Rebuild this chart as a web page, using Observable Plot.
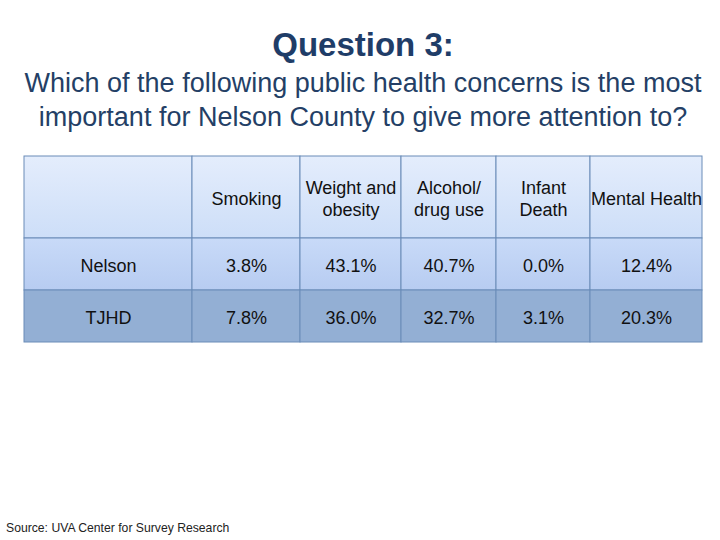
<!DOCTYPE html>
<html>
<head>
<meta charset="utf-8">
<script src="https://cdn.jsdelivr.net/npm/d3@7"></script>
<script src="https://cdn.jsdelivr.net/npm/@observablehq/plot@0.6"></script>
<style>
  html, body { margin: 0; padding: 0; background: #fff; }
  #page { position: relative; width: 720px; height: 540px; overflow: hidden; font-family: "Liberation Sans", Arial, sans-serif; }
  .t { position: absolute; left: 0; width: 726px; text-align: center; color: #1f3d68; white-space: nowrap; }
  #title { top: 25px; font-size: 33px; font-weight: bold; line-height: 40px; }
  #subtitle { top: 66px; font-size: 27px; line-height: 34px; color: #243f66; }
  #caption { position: absolute; left: 6px; top: 521px; font-size: 12.2px; color: #222; white-space: nowrap; }
  #chart { position: absolute; left: 0; top: 0; }
</style>
</head>
<body>
<div id="page">
  <div id="chart"></div>
  <div id="title" class="t">Question 3:</div>
  <div id="subtitle" class="t">Which of the following public health concerns is the most<br>important for Nelson County to give more attention to?</div>
  <div id="caption">Source: UVA Center for Survey Research</div>
</div>
<script>
// ---- data ----
const categories = ["Smoking", "Weight and\nobesity", "Alcohol/\ndrug use", "Infant\nDeath", "Mental Health"];
const regions = ["Nelson", "TJHD"];
const nelsonValues = [3.8, 43.1, 40.7, 0.0, 12.4];
const tjhdValues = [7.8, 36.0, 32.7, 3.1, 20.3];

// ---- layout (relative column / row sizes) ----
const colWeights = [168, 108, 101, 95, 94, 112];
const rowWeights = [82, 52, 52];

const colEdges = [0]; colWeights.forEach(w => colEdges.push(colEdges[colEdges.length - 1] + w));
const rowEdges = [0]; rowWeights.forEach(h => rowEdges.push(rowEdges[rowEdges.length - 1] + h));

const seriesValues = [nelsonValues, tjhdValues];
const cells = [];
// header row
cells.push({row: 0, col: 0, label: ""});
categories.forEach((c, i) => cells.push({row: 0, col: i + 1, label: c}));
// body rows
regions.forEach((r, ri) => {
  cells.push({row: ri + 1, col: 0, label: r});
  seriesValues[ri].forEach((v, i) => cells.push({row: ri + 1, col: i + 1, label: v.toFixed(1) + "%"}));
});
cells.forEach(d => {
  d.x1 = colEdges[d.col]; d.x2 = colEdges[d.col + 1];
  d.y1 = rowEdges[d.row]; d.y2 = rowEdges[d.row + 1];
  d.xc = (d.x1 + d.x2) / 2; d.yc = (d.y1 + d.y2) / 2;
});

const rowFill = ["url(#gHead)", "url(#gNelson)", "#93afd4"];

function defsMark() {
  const ns = "http://www.w3.org/2000/svg";
  const defs = document.createElementNS(ns, "defs");
  const grads = [["gHead", "#e4edfc", "#cddef8"], ["gNelson", "#c8daf8", "#b7ccf1"]];
  for (const [id, a, b] of grads) {
    const g = document.createElementNS(ns, "linearGradient");
    g.setAttribute("id", id);
    g.setAttribute("x1", "0"); g.setAttribute("y1", "0");
    g.setAttribute("x2", "0"); g.setAttribute("y2", "1");
    const s1 = document.createElementNS(ns, "stop"); s1.setAttribute("offset", "0"); s1.setAttribute("stop-color", a);
    const s2 = document.createElementNS(ns, "stop"); s2.setAttribute("offset", "1"); s2.setAttribute("stop-color", b);
    g.appendChild(s1); g.appendChild(s2); defs.appendChild(g);
  }
  return defs;
}

const totalW = colEdges[colEdges.length - 1];
const totalH = rowEdges[rowEdges.length - 1];

const chart = Plot.plot({
  width: 720,
  height: 540,
  marginLeft: 24,
  marginRight: 18,
  marginTop: 156,
  marginBottom: 198,
  x: {domain: [0, totalW], axis: null},
  y: {domain: [0, totalH], reverse: true, axis: null},
  style: {fontFamily: "'Liberation Sans', Arial, sans-serif", background: "transparent"},
  marks: [
    defsMark,
    ...[0, 1, 2].map(r => Plot.rect(cells.filter(d => d.row === r), {
      x1: "x1", x2: "x2", y1: "y1", y2: "y2",
      fill: rowFill[r], stroke: "#6a8cb8", strokeWidth: 1
    })),
    Plot.text(cells.filter(d => d.label !== ""), {
      x: "xc", y: "yc", text: "label",
      fontSize: 18, lineHeight: 1.22, fill: "#111", textAnchor: "middle"
    })
  ]
});
document.getElementById("chart").appendChild(chart);
</script>
</body>
</html>
